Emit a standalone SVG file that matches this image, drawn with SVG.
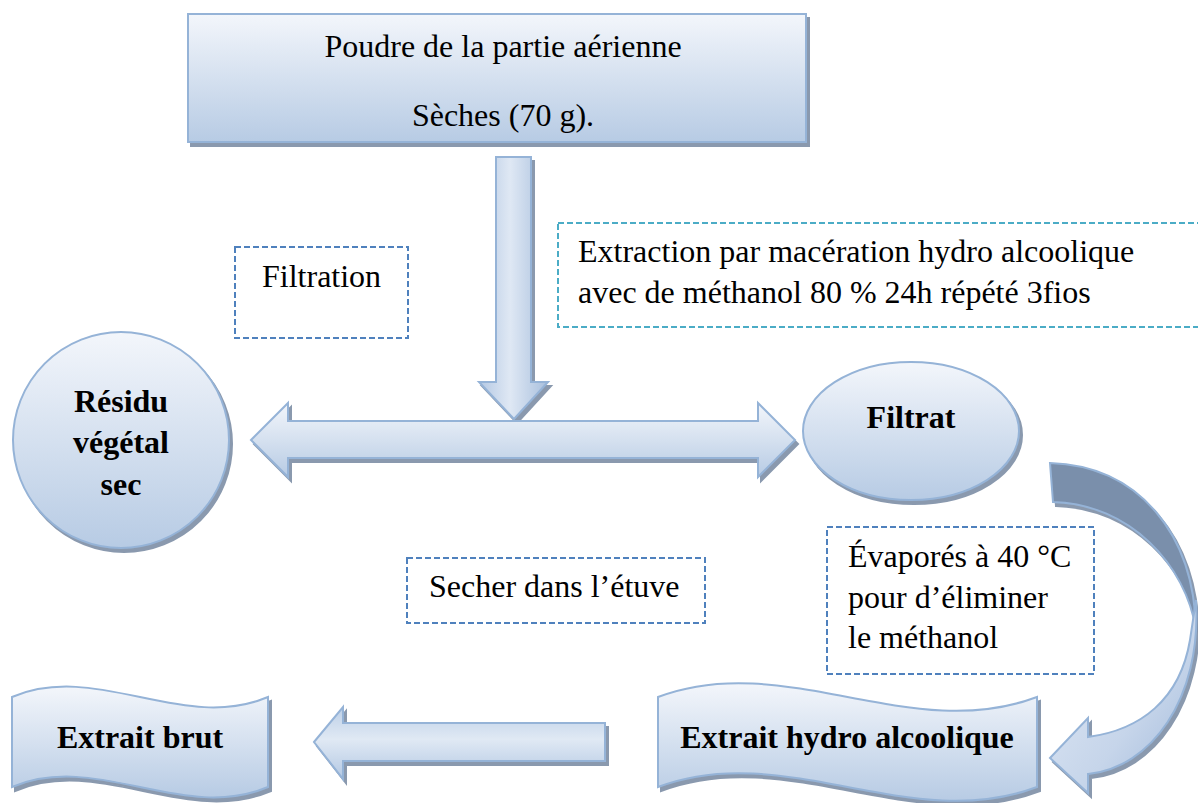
<svg xmlns="http://www.w3.org/2000/svg" width="1198" height="803" viewBox="0 0 1198 803">
<defs>
<linearGradient id="gV" x1="0" y1="0" x2="0" y2="1">
<stop offset="0" stop-color="#f3f6fb"/>
<stop offset="1" stop-color="#b7cbe4"/>
</linearGradient>
<linearGradient id="gH" x1="0" y1="0" x2="1" y2="0">
<stop offset="0" stop-color="#b4c8e3"/>
<stop offset="0.45" stop-color="#dfe8f4"/>
<stop offset="1" stop-color="#a8bfdd"/>
</linearGradient>
<linearGradient id="gArrow" x1="0" y1="0" x2="0" y2="1">
<stop offset="0" stop-color="#bccfe7"/>
<stop offset="0.45" stop-color="#e0e9f4"/>
<stop offset="1" stop-color="#b3c8e3"/>
</linearGradient>
<linearGradient id="gCurve" x1="0" y1="0" x2="1" y2="1">
<stop offset="0" stop-color="#e3ebf6"/>
<stop offset="0.6" stop-color="#c6d5ea"/>
<stop offset="1" stop-color="#9fb8da"/>
</linearGradient>
<filter id="sh" x="-10%" y="-10%" width="130%" height="130%">
<feDropShadow dx="3" dy="4" stdDeviation="0.6" flood-color="#7d8ea6" flood-opacity="0.9"/>
</filter>
<style>
.shape{stroke:#95b3d7;stroke-width:2;filter:url(#sh)}
.dash{fill:#ffffff;stroke:#4f81bd;stroke-width:2;stroke-dasharray:6 3}
.dash2{fill:#ffffff;stroke:#4bacc6;stroke-width:2;stroke-dasharray:6 3}
.t{font-family:"Liberation Serif","Times New Roman",serif;font-size:32px;fill:#000}
.b{font-family:"Liberation Serif","Times New Roman",serif;font-size:32px;font-weight:bold;fill:#000}
</style>
</defs>
<rect width="1198" height="803" fill="#ffffff"/>

<g id="connectors">
<path id="arrow-down" class="shape" fill="url(#gH)" d="M496,157 L531,157 L531,382 L548,382 L514,419 L479,382 L496,382 Z"/>
<path id="arrow-double" class="shape" fill="url(#gV)" d="M251,440 L288,403 L288,421 L758,421 L758,403 L795,440 L758,477 L758,458 L288,458 L288,477 Z"/>
<path id="arrow-curve-back" class="shape" fill="#7a8fab" d="M1050,463 C1140,466 1194,535 1196,630 C1186,565 1130,504 1053,502 Z"/>
<path id="arrow-curve-front" class="shape" fill="url(#gCurve)" d="M1196,600 C1202,700 1150,768 1088,774 L1088,793 L1050,758 L1088,718 L1088,737 C1140,730 1180,700 1190,640 Z"/>
<path id="arrow-left" class="shape" fill="url(#gArrow)" d="M314,742 L343,707 L343,723 L605,723 L605,761 L343,761 L343,779 Z"/>
</g>

<g id="node-poudre">
<rect class="shape" fill="url(#gV)" x="188" y="14" width="618" height="128"/>
<text class="t" x="503" y="57" text-anchor="middle">Poudre de la partie aérienne</text>
<text class="t" x="503" y="126" text-anchor="middle">Sèches (70 g).</text>
</g>

<g id="label-filtration">
<rect class="dash" x="235" y="247" width="173" height="91"/>
<text class="t" x="262" y="287">Filtration</text>
</g>

<g id="label-extraction">
<rect class="dash2" x="558" y="223" width="660" height="104"/>
<text class="t" x="578" y="262">Extraction par macération hydro alcoolique</text>
<text class="t" x="578" y="303">avec de méthanol 80 % 24h répété 3fios</text>
</g>

<g id="node-residu">
<circle class="shape" fill="url(#gV)" cx="121" cy="440" r="108"/>
<text class="b" x="121" y="412" text-anchor="middle">Résidu</text>
<text class="b" x="121" y="453" text-anchor="middle">végétal</text>
<text class="b" x="121" y="495" text-anchor="middle">sec</text>
</g>

<g id="node-filtrat">
<ellipse class="shape" fill="url(#gV)" cx="911" cy="431" rx="108" ry="69"/>
<text class="b" x="911" y="428" text-anchor="middle">Filtrat</text>
</g>

<g id="label-secher">
<rect class="dash" x="407" y="558" width="298" height="65"/>
<text class="t" x="429" y="597">Secher dans l’étuve</text>
</g>

<g id="label-evapores">
<rect class="dash" x="827" y="527" width="267" height="147"/>
<text class="t" x="848" y="567">Évaporés à 40 °C</text>
<text class="t" x="848" y="608">pour d’éliminer</text>
<text class="t" x="848" y="648">le méthanol</text>
</g>

<g id="node-extrait-brut">
<path class="shape" fill="url(#gV)" d="M12,697 C97,661 183,733 268,697 L268,787 C183,823 97,751 12,787 Z"/>
<text class="b" x="140" y="748" text-anchor="middle">Extrait brut</text>
</g>

<g id="node-extrait-hydro">
<path class="shape" fill="url(#gV)" d="M658,697 C784,649 911,745 1037,697 L1037,787 C911,835 784,739 658,787 Z"/>
<text class="b" x="847" y="748" text-anchor="middle">Extrait hydro alcoolique</text>
</g>
</svg>
